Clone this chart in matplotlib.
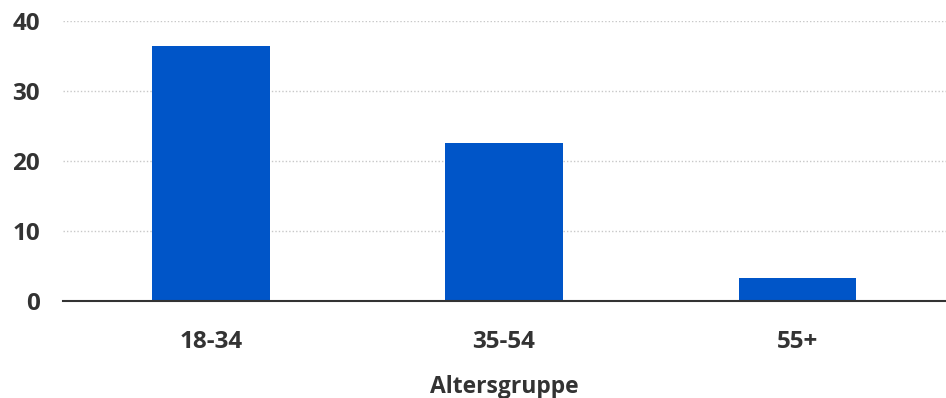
import matplotlib.pyplot as plt

# age groups and values per group
altersgruppen = ['18-34', '35-54', '55+']
werte = [36.4, 22.6, 3.3]
y_ticks = [0, 10, 20, 30, 40]

plt.rcParams['font.family'] = ['Open Sans', 'DejaVu Sans']

fig = plt.figure(figsize=(9.46, 3.98), dpi=100)
ax = fig.add_axes([63 / 946, 97 / 398, 883 / 946, 280 / 398])

x = range(len(altersgruppen))
ax.bar(x, werte, width=0.4, color='#0055c8', zorder=3)

ax.set_xlim(-0.505, 2.508)
ax.set_ylim(0, 40)
ax.set_yticks(y_ticks)
ax.set_xticks(list(x))
ax.set_xticklabels(altersgruppen)

# dotted horizontal grid, solid base line
ax.grid(axis='y', color='#c8c8c8', linestyle=(0, (1, 1.5)), linewidth=1, zorder=0)
for side in ['top', 'right', 'left']:
    ax.spines[side].set_visible(False)
ax.spines['bottom'].set_color('#333333')
ax.spines['bottom'].set_linewidth(1.5)
ax.spines['bottom'].set_zorder(4)

ax.tick_params(axis='both', length=0, labelsize=17.5, labelcolor='#333333')
ax.tick_params(axis='y', pad=16.5)
ax.tick_params(axis='x', pad=21)
for lbl in ax.get_xticklabels() + ax.get_yticklabels():
    lbl.set_fontweight('bold')

ax.set_xlabel('Altersgruppe', fontsize=16.5, fontweight='bold', color='#333333', labelpad=15)

fig.savefig('out.png', dpi=100, facecolor='white')
